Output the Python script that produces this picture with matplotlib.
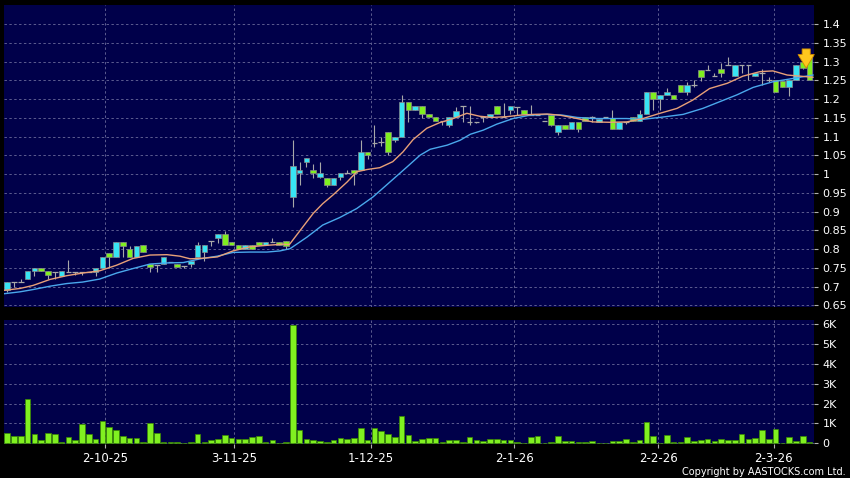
import matplotlib
matplotlib.use("Agg")
import matplotlib.pyplot as plt
import numpy as np

# ---------------- data ----------------
opens = [0.690,0.711,0.711,0.720,0.741,0.750,0.741,0.739,0.729,0.739,
         0.739,0.739,0.739,0.739,0.750,0.790,0.779,0.820,0.800,0.779,
         0.810,0.759,0.758,0.760,0.766,0.760,0.755,0.760,0.779,0.791,
         0.821,0.830,0.840,0.819,0.810,0.801,0.810,0.819,0.810,0.819,
         0.819,0.822,0.939,1.0015,1.031,1.0095,0.991,0.990,0.970,0.991,
         1.0015,1.0095,1.0095,1.059,1.082,1.085,1.111,1.090,1.099,1.191,
         1.172,1.181,1.160,1.151,1.142,1.131,1.151,1.181,1.139,1.140,
         1.153,1.151,1.181,1.153,1.170,1.180,1.170,1.157,1.157,1.142,
         1.157,1.111,1.130,1.121,1.139,1.151,1.151,1.139,1.151,1.150,
         1.121,1.139,1.151,1.142,1.159,1.219,1.199,1.210,1.210,1.238,
         1.219,1.238,1.277,1.277,1.261,1.279,1.291,1.261,1.291,1.290,
         1.261,1.270,1.250,1.251,1.249,1.231,1.251,1.299,1.311]
closes = [0.711,0.711,0.711,0.741,0.750,0.741,0.731,0.739,0.741,0.739,
          0.739,0.739,0.739,0.750,0.779,0.779,0.820,0.808,0.779,0.809,
          0.791,0.751,0.758,0.779,0.766,0.751,0.755,0.769,0.810,0.810,
          0.821,0.840,0.810,0.810,0.801,0.810,0.801,0.810,0.819,0.819,
          0.810,0.808,1.021,1.0095,1.042,1.0015,1.0015,0.970,0.990,1.0015,
          1.0015,1.0015,1.059,1.050,1.082,1.085,1.059,1.099,1.191,1.170,
          1.181,1.160,1.151,1.142,1.142,1.151,1.169,1.181,1.139,1.140,
          1.153,1.160,1.160,1.153,1.181,1.180,1.160,1.157,1.157,1.142,
          1.130,1.130,1.121,1.139,1.121,1.142,1.151,1.148,1.151,1.121,
          1.139,1.139,1.142,1.159,1.219,1.199,1.210,1.219,1.199,1.219,
          1.238,1.238,1.259,1.277,1.261,1.270,1.291,1.291,1.291,1.290,
          1.270,1.270,1.250,1.219,1.231,1.251,1.291,1.282,1.251]
highs = [0.711,0.711,0.721,0.741,0.750,0.750,0.741,0.739,0.741,0.770,
         0.739,0.739,0.739,0.750,0.779,0.790,0.820,0.820,0.808,0.809,
         0.810,0.759,0.758,0.779,0.766,0.760,0.755,0.769,0.820,0.810,
         0.821,0.840,0.849,0.819,0.810,0.810,0.810,0.819,0.819,0.830,
         0.819,0.822,1.090,1.031,1.042,1.026,1.031,0.990,0.990,1.0015,
         1.0095,1.0095,1.090,1.059,1.130,1.100,1.111,1.099,1.211,1.191,
         1.181,1.181,1.160,1.151,1.142,1.151,1.180,1.181,1.181,1.140,
         1.153,1.160,1.181,1.190,1.181,1.180,1.170,1.183,1.157,1.142,
         1.157,1.130,1.130,1.139,1.139,1.151,1.155,1.148,1.151,1.170,
         1.139,1.139,1.151,1.170,1.219,1.219,1.210,1.230,1.210,1.238,
         1.245,1.251,1.277,1.290,1.270,1.297,1.313,1.291,1.291,1.290,
         1.270,1.280,1.260,1.251,1.249,1.251,1.291,1.299,1.311]
lows = [0.686,0.699,0.711,0.720,0.729,0.741,0.721,0.721,0.729,0.739,
        0.730,0.730,0.739,0.729,0.750,0.750,0.779,0.779,0.779,0.779,
        0.791,0.739,0.739,0.760,0.766,0.751,0.750,0.751,0.779,0.769,
        0.808,0.815,0.810,0.810,0.801,0.801,0.801,0.810,0.810,0.819,
        0.810,0.800,0.911,0.970,1.020,0.990,0.990,0.965,0.970,0.985,
        1.0015,0.970,1.0095,1.040,1.073,1.075,1.050,1.085,1.099,1.140,
        1.172,1.150,1.151,1.142,1.130,1.125,1.151,1.140,1.131,1.135,
        1.140,1.151,1.160,1.153,1.160,1.157,1.160,1.157,1.157,1.142,
        1.128,1.104,1.121,1.121,1.111,1.142,1.140,1.139,1.151,1.121,
        1.121,1.133,1.142,1.142,1.159,1.170,1.170,1.210,1.199,1.219,
        1.210,1.232,1.248,1.277,1.261,1.260,1.291,1.261,1.270,1.250,
        1.261,1.237,1.245,1.219,1.231,1.208,1.251,1.280,1.251]
volume_k = [0.54,0.35,0.35,2.22,0.45,0.17,0.50,0.45,0.07,0.32,
            0.17,0.96,0.47,0.22,1.13,0.81,0.67,0.39,0.25,0.29,
            0.05,1.01,0.50,0.08,0.07,0.05,0.02,0.08,0.45,0.07,
            0.15,0.20,0.44,0.27,0.20,0.20,0.30,0.39,0.07,0.17,
            0.03,0.08,5.97,0.66,0.22,0.17,0.12,0.07,0.17,0.27,
            0.24,0.25,0.77,0.15,0.76,0.64,0.47,0.32,1.39,0.42,
            0.13,0.20,0.25,0.25,0.08,0.18,0.18,0.05,0.34,0.15,
            0.10,0.24,0.22,0.18,0.15,0.08,0.03,0.30,0.37,0.03,
            0.07,0.35,0.12,0.10,0.07,0.07,0.12,0.02,0.03,0.12,
            0.13,0.24,0.08,0.15,1.08,0.37,0.02,0.42,0.07,0.07,
            0.34,0.13,0.18,0.22,0.12,0.20,0.15,0.17,0.49,0.24,
            0.29,0.66,0.20,0.71,0.03,0.34,0.12,0.39,0.05]

# moving averages: (candle position, value)
ma10_pos = [-0.4,1.9,3.8,6.3,8.75,11.1,13.6,16.1,18.5,21.0,23.5,25.4,26.9,28.4,30.9,
            33.2,35.7,38.2,40.6,41.5,43.1,45.0,46.4,47.9,50.0,51.4,52.9,54.8,56.7,
            58.2,59.7,61.7,63.6,65.6,67.6,69.5,71.4,73.5,75.4,77.3,79.4,81.3,83.8,
            86.1,88.6,91.1,93.5,96.0,98.5,100.8,103.3,105.9,108.2,110.7,112.6,
            114.7,116.6,118.5]
ma10_val = [0.690,0.695,0.703,0.719,0.729,0.736,0.742,0.757,0.775,0.784,0.785,0.781,
            0.774,0.775,0.779,0.795,0.806,0.810,0.813,0.812,0.850,0.895,0.921,0.944,
            0.979,1.006,1.012,1.017,1.033,1.059,1.092,1.122,1.137,1.148,1.162,1.154,
            1.151,1.153,1.157,1.159,1.160,1.157,1.148,1.139,1.138,1.139,1.148,1.162,
            1.175,1.197,1.228,1.242,1.261,1.273,1.275,1.264,1.261,1.258]
ma20_pos = [-0.4,1.9,3.8,6.3,8.75,11.1,13.6,16.1,18.5,21.0,23.5,25.9,28.4,30.9,33.2,
            35.7,38.2,40.1,41.6,44.1,46.4,48.9,51.4,53.8,56.3,58.8,60.7,62.2,64.7,
            66.6,68.1,70.0,72.0,74.4,76.9,79.4,81.7,83.8,86.1,88.6,91.1,93.5,96.0,
            99.4,102.3,104.8,107.3,109.7,112.6,115.6,118.5]
ma20_val = [0.681,0.686,0.692,0.701,0.708,0.712,0.720,0.736,0.748,0.760,0.763,0.764,
            0.774,0.781,0.791,0.792,0.792,0.795,0.801,0.832,0.864,0.884,0.908,0.939,
            0.979,1.019,1.050,1.066,1.077,1.090,1.106,1.117,1.133,1.148,1.157,1.159,
            1.157,1.151,1.148,1.148,1.148,1.146,1.151,1.159,1.175,1.193,1.211,1.231,
            1.246,1.255,1.264]

date_labels = ["2-10-25", "3-11-25", "1-12-25", "2-1-26", "2-2-26", "2-3-26"]
date_pos = [14.4, 33.4, 53.5, 74.6, 95.75, 112.75]
price_ticks = [0.65,0.7,0.75,0.8,0.85,0.9,0.95,1.0,1.05,1.1,1.15,1.2,1.25,1.3,1.35,1.4]
vol_ticks = [0, 1, 2, 3, 4, 5, 6]

# ---------------- styling ----------------
BG = "#00004a"
GRID = "#5c5c90"
CYAN = "#38e4f4"
GREEN = "#80f020"
EDGE = "#8a8a8a"
WICK = "#a8a8a8"

W, H = 850, 478
fig = plt.figure(figsize=(W/100, H/100), dpi=100, facecolor="black")

def rect(l, t, r, b):
    return [l/W, 1 - b/H, (r - l)/W, (b - t)/H]

axp = fig.add_axes(rect(4, 5, 814, 307), facecolor=BG)
axv = fig.add_axes(rect(4, 320, 814, 444), facecolor=BG)

idx = np.arange(len(opens))
o = np.array(opens); c = np.array(closes)
hi = np.array(highs); lo = np.array(lows)
xlim = (-0.47, 118.65)

for ax in (axp, axv):
    ax.set_xlim(*xlim)
    for s in ax.spines.values():
        s.set_visible(False)
    ax.yaxis.tick_right()
    ax.tick_params(axis="y", colors="#b0b0b0", labelcolor="white", length=3,
                   width=0.8, pad=3, labelsize=8)
    ax.grid(True, color=GRID, linestyle=(0, (2.5, 2.5)), linewidth=0.7)
    ax.set_axisbelow(True)
    ax.set_xticks(date_pos)

# ---- price panel ----
axp.set_ylim(0.6455, 1.4507)
axp.set_yticks(price_ticks)
axp.set_yticklabels([("%g" % t) for t in price_ticks])
axp.tick_params(axis="x", length=0, labelbottom=False)

axp.vlines(idx, lo, hi, color=WICK, linewidth=0.8, zorder=2)
up = c > o
dn = c < o
eq = c == o
bw = 0.82
axp.bar(idx[up], (c - o)[up], bottom=o[up], width=bw, color=CYAN,
        edgecolor=EDGE, linewidth=0.5, zorder=3)
axp.bar(idx[dn], (o - c)[dn], bottom=c[dn], width=bw, color=GREEN,
        edgecolor=EDGE, linewidth=0.5, zorder=3)
axp.hlines(o[eq], idx[eq] - bw/2, idx[eq] + bw/2, color=WICK, linewidth=0.9, zorder=3)

axp.plot(ma20_pos, ma20_val, color="#4aa8ec", linewidth=1.0, zorder=4)
axp.plot(ma10_pos, ma10_val, color="#e8a078", linewidth=1.0, zorder=4)

# down arrow marking the latest candle
ax_x = idx[-1] - 0.5
axp.annotate("", xy=(ax_x, c[-1] + 0.024), xytext=(ax_x, c[-1] + 0.090),
             arrowprops=dict(arrowstyle="simple,head_width=0.9,head_length=0.75,tail_width=0.45",
                             mutation_scale=13, fc="#ffc81e", ec="#d08a00", lw=0.6),
             zorder=6)

# ---- volume panel ----
axv.set_ylim(-0.035, 6.22)
axv.set_yticks(vol_ticks)
axv.set_yticklabels(["0"] + ["%dK" % v for v in vol_ticks[1:]])
axv.bar(idx, volume_k, width=0.84, color=GREEN, edgecolor="#3a8a00",
        linewidth=0.5, zorder=3)
axv.set_xticklabels(date_labels)
axv.tick_params(axis="x", colors="#b0b0b0", labelcolor="white", length=3,
                width=0.8, pad=3, labelsize=8.5)

fig.text(846/W, 1 - 472/H, "Copyright by AASTOCKS.com Ltd.", color="white",
         fontsize=7, ha="right", va="center")

fig.savefig("out.png", dpi=100, facecolor="black")
